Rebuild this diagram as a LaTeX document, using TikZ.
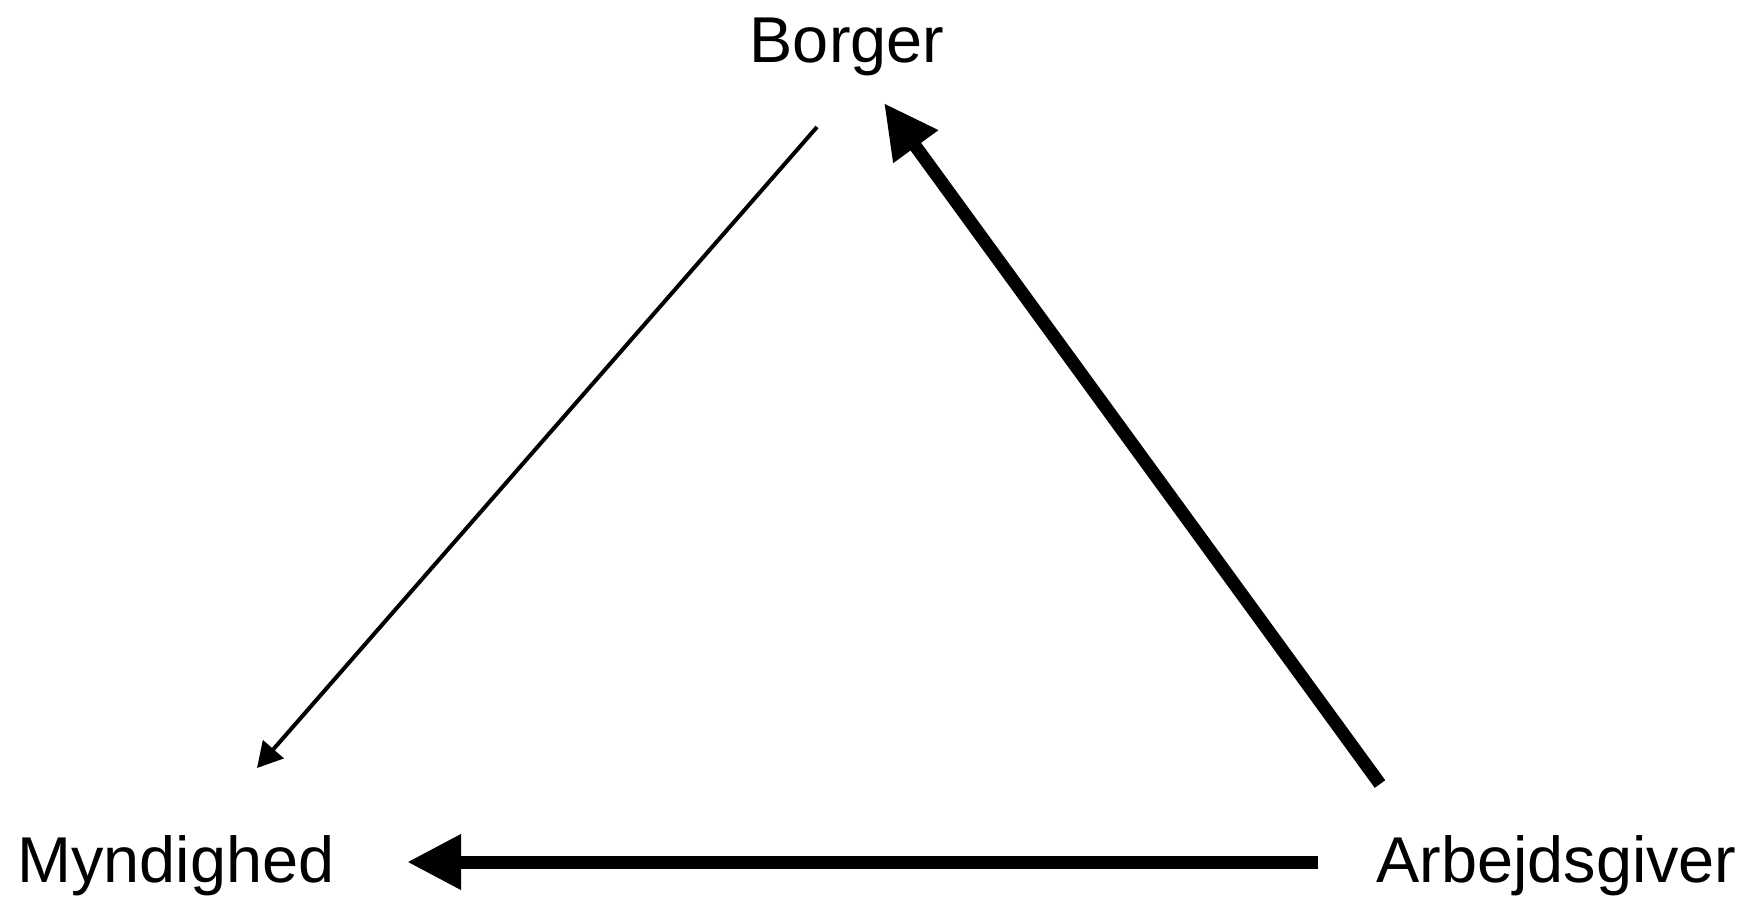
\documentclass[tikz,border=0pt]{standalone}
\usepackage{fontspec}
\setmainfont{Liberation Sans}
\usetikzlibrary{arrows.meta}
\begin{document}
\begin{tikzpicture}[x=0.5pt,y=-0.5pt,
  lbl/.style={inner sep=0pt,font=\fontsize{32.4}{38}\selectfont},
  thinarrow/.style={line width=2pt,-{Triangle[length=12.5pt,width=13.5pt]}},
  thickarrow/.style={line width=6.5pt,-{Triangle[length=27pt,width=26pt]}}]
\useasboundingbox (0,0) rectangle (1745,900);
\node[lbl,anchor=base] (borger) at (847,62) {Borger};
\node[lbl,anchor=base west] (myn) at (17,882) {Myndighed};
\node[lbl,anchor=base west] (arb) at (1376,882) {Arbejdsgiver};
\coordinate (bOut) at (817,127);
\coordinate (mIn) at (257,768);
\coordinate (aOutH) at (1318,862);
\coordinate (mInH) at (407,862);
\coordinate (aOutD) at (1380,784);
\coordinate (bIn) at (884,103);
\draw[thinarrow] (bOut) -- (mIn);
\draw[thickarrow] (aOutH) -- (mInH);
\draw[thickarrow] (aOutD) -- (bIn);
\end{tikzpicture}
\end{document}
